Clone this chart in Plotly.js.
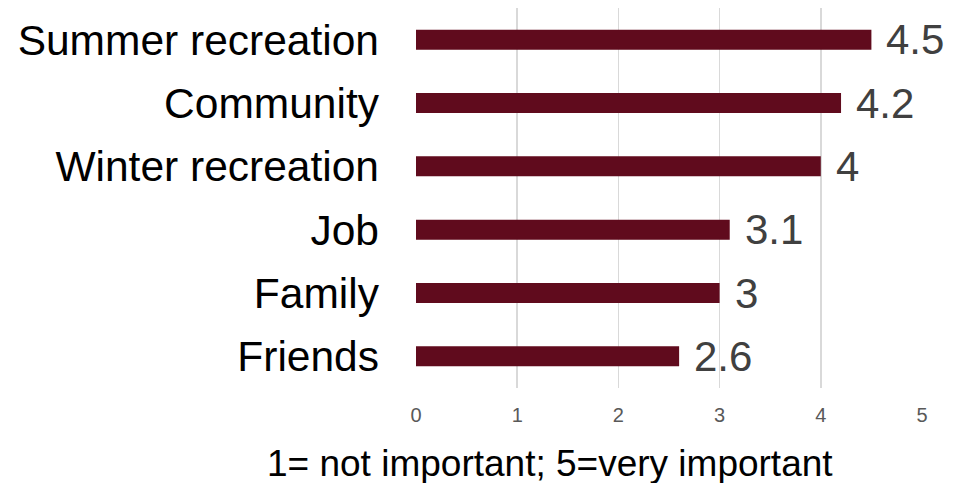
<!DOCTYPE html>
<html>
<head>
<meta charset="utf-8">
<script src="https://cdn.plot.ly/plotly-3.0.1.min.js"></script>
<style>html,body{margin:0;padding:0;background:#fff;}#chart{width:961px;height:483px;}</style>
</head>
<body>
<div id="chart"></div>
<script>
const categories = ["Summer recreation", "Community", "Winter recreation", "Job", "Family", "Friends"];
const values = [4.5, 4.2, 4, 3.1, 3, 2.6];
const xTicks = [0, 1, 2, 3, 4, 5];
const axisTitle = "1= not important; 5=very important";

const FONT = "Liberation Sans, Arial, sans-serif";

const trace = {
  type: "bar",
  orientation: "h",
  x: values,
  y: categories,
  marker: {color: "#600B1D"},
  hoverinfo: "none"
};

const annotations = values.map((v, i) => ({
  x: v, y: categories[i], xref: "x", yref: "y",
  text: String(v), showarrow: false,
  xanchor: "left", yanchor: "middle", xshift: 13, yshift: 0,
  font: {family: FONT, size: 42, color: "#404040"}
}));
annotations.push({
  x: 0.265, y: 0, xref: "paper", yref: "paper", yanchor: "top", xanchor: "center",
  yshift: -53, text: axisTitle, showarrow: false,
  font: {family: FONT, size: 37, color: "#000000"}
});

const layout = {
  width: 961, height: 483,
  margin: {l: 416, r: 39, t: 8, b: 95},
  paper_bgcolor: "#ffffff", plot_bgcolor: "#ffffff",
  showlegend: false,
  bargap: 0.684,
  font: {family: FONT},
  xaxis: {
    range: [0, 5], tickvals: xTicks, ticktext: xTicks.map(String),
    showgrid: true, gridcolor: "#d9d9d9", gridwidth: 1.5,
    zeroline: false, showline: false, ticks: "",
    ticklabelstandoff: 13,
    tickfont: {family: FONT, size: 20, color: "#595959"},
    fixedrange: true
  },
  yaxis: {
    autorange: "reversed", type: "category",
    showgrid: false, zeroline: false, showline: false, ticks: "",
    ticklabelstandoff: 36,
    tickfont: {family: FONT, size: 42.5, color: "#000000"},
    fixedrange: true
  },
  annotations: annotations
};

Plotly.newPlot("chart", [trace], layout, {displayModeBar: false, staticPlot: true});
</script>
</body>
</html>
